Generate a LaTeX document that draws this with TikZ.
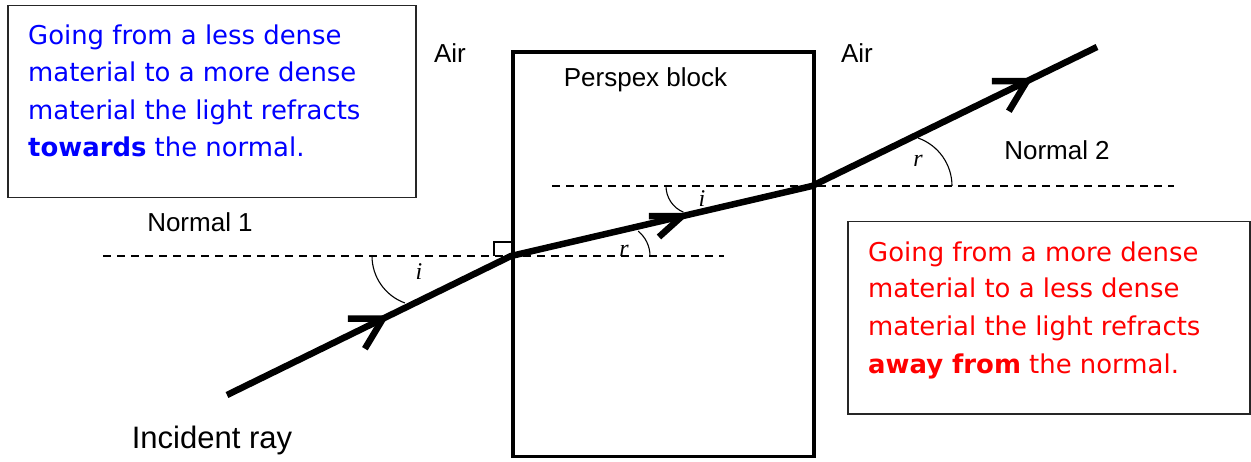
\documentclass[tikz,border=0pt]{standalone}
\usepackage{fontspec}
\setmainfont{Liberation Sans}
\newfontfamily\comicfont{DejaVu Sans}
\newfontfamily\timesfont{Liberation Serif}
\usetikzlibrary{calc}
\begin{document}
\begin{tikzpicture}[x=1pt,y=1pt,
  ray/.style={line width=6.5pt, line join=miter},
  chev/.style={line width=6.5pt, line join=miter, line cap=butt},
  normalline/.style={line width=1.3pt, dash pattern=on 8pt off 6pt},
  anglearc/.style={line width=1.1pt},
  lbl/.style={font=\fontsize{26}{30}\selectfont, anchor=base, inner sep=0pt},
  ang/.style={font=\timesfont\itshape\fontsize{24}{28}\selectfont, anchor=base, inner sep=0pt},
  note/.style={draw=black!85, line width=1.5pt, anchor=north west, inner sep=0pt},
  bluetxt/.style={font=\comicfont\fontsize{25.9}{30}\selectfont, text=blue, anchor=base west, inner sep=0pt},
  redtxt/.style={font=\comicfont\fontsize{25.9}{30}\selectfont, text=red, anchor=base west, inner sep=0pt},
]
\useasboundingbox (0,0) rectangle (1251,461);

% note boxes
\node[note, minimum width=408pt, minimum height=192pt] (lbox) at (7,456) {};
\node[note, minimum width=402pt, minimum height=192pt] (rbox) at (847,240) {};

\node[bluetxt] (b1) at (28,416) {Going from a less dense};
\node[bluetxt] (b2) at (28,379) {material to a more dense};
\node[bluetxt] (b3) at (28,341) {material the light refracts};
\node[bluetxt] (b4) at (28,304) {{\bfseries towards} the normal.};

\node[redtxt] (r1) at (868,199) {Going from a more dense};
\node[redtxt] (r2) at (868,163) {material to a less dense};
\node[redtxt] (r3) at (868,125) {material the light refracts};
\node[redtxt] (r4) at (868,88) {{\bfseries away from} the normal.};

% perspex block
\node[draw, line width=3.5pt, minimum width=301pt, minimum height=404pt, anchor=south west, inner sep=0pt] (block) at (511,3) {};

% normals
\coordinate (n1a) at (103,205);
\coordinate (n1b) at (724,205);
\coordinate (n2a) at (552,275);
\coordinate (n2b) at (1174,275);
\draw[normalline] (n1a) -- (n1b);
\draw[normalline] (n2a) -- (n2b);

% ray
\coordinate (S) at (227,66);
\coordinate (P1) at (511,205);
\coordinate (P2) at (812,275);
\coordinate (E) at (1097,414);
\draw[ray] (S) -- (P1) -- (P2) -- (E);

\path (S) -- (P1) coordinate[pos=0.549] (a1);
\path (P1) -- (P2) coordinate[pos=0.568] (a2);
\path (P2) -- (E) coordinate[pos=0.754] (a3);
\draw[chev] ($(a1)+(180:35)$) -- (a1) -- ($(a1)+(239:35)$);
\draw[chev] ($(a2)+(180:33)$) -- (a2) -- ($(a2)+(222:31)$);
\draw[chev] ($(a3)+(180:35)$) -- (a3) -- ($(a3)+(239:35)$);

% right angle mark
\draw[line width=1.2pt] (511,219) -- (494,219) -- (494,205);

% angle arcs
\draw[anglearc] (372,205) arc[start angle=180, end angle=250, radius=50];
\draw[anglearc] (650,205) arc[start angle=0, end angle=51, radius=32];
\draw[anglearc] (666,275) arc[start angle=180, end angle=247, radius=28.4];
\draw[anglearc] (952,275) arc[start angle=0, end angle=70.5, radius=50.9];

\node[ang] (i1) at (419,181) {i};
\node[ang] (rr1) at (624,204) {r};
\node[ang] (i2) at (702,254) {i};
\node[ang] (rr2) at (918,294) {r};

% labels
\node[lbl] (air1) at (450,398) {Air};
\node[lbl] (air2) at (857,398) {Air};
\node[lbl] (perspex) at (645.5,374) {Perspex block};
\node[lbl] (n1lbl) at (200,229) {Normal 1};
\node[lbl] (n2lbl) at (1057,301) {Normal 2};
\node[lbl, font=\fontsize{31}{36}\selectfont] (inc) at (212,13) {Incident ray};
\end{tikzpicture}
\end{document}
